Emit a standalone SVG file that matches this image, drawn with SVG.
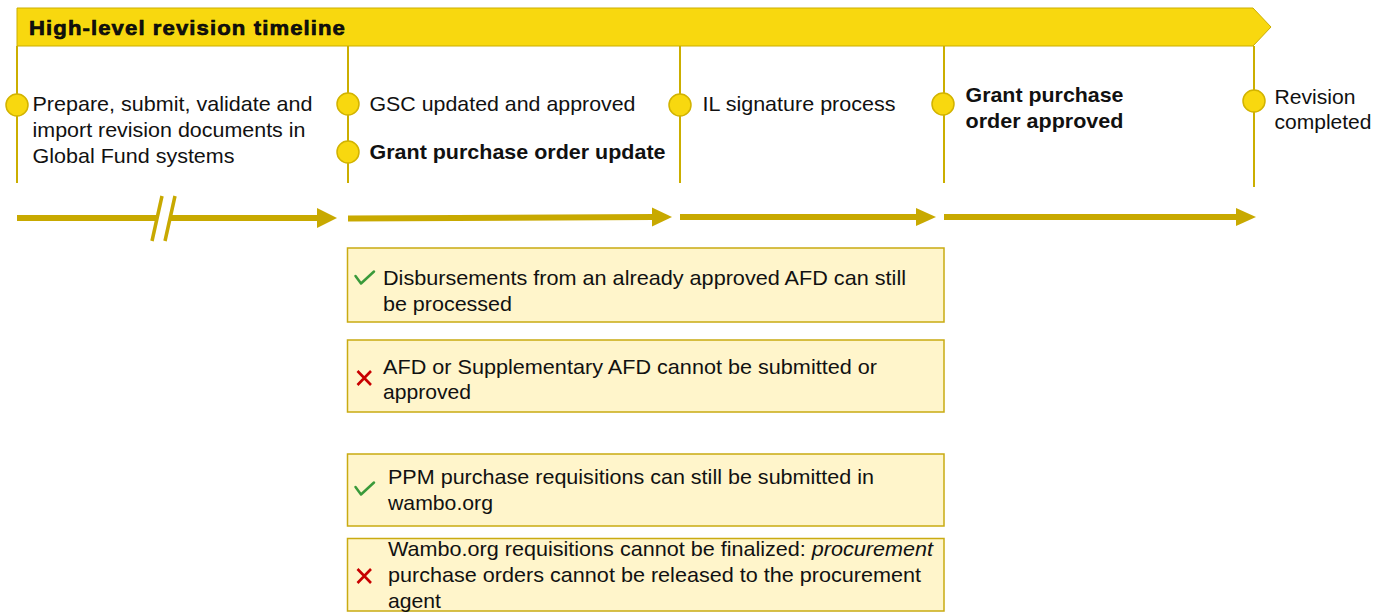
<svg xmlns="http://www.w3.org/2000/svg" width="1389" height="612" viewBox="0 0 1389 612">
<style>
  .t { font-family: "Liberation Sans", Arial, sans-serif; font-size: 21px; fill: #111; }
  .b { font-weight: bold; }
  .vline { stroke: #cbae00; stroke-width: 2; fill: none; }
  .dot { fill: #f8d80f; stroke: #d2b300; stroke-width: 1.5; }
  .box { fill: #fff5cb; stroke: #c9ab12; stroke-width: 1.5; }
  .arr { stroke: #c8a900; stroke-width: 6; fill: none; }
  .head { fill: #c8a900; }
  .ok { stroke: #3a9a3a; stroke-width: 2.5; fill: none; stroke-linecap: round; stroke-linejoin: round; }
  .no { stroke: #c80000; stroke-width: 2.6; fill: none; }
</style>
<rect width="1389" height="612" fill="#ffffff"/>

<g id="banner">
  <polygon points="17,8 1253,8 1271,27 1253,46 17,46" fill="#f8d80f" stroke="#cbae00" stroke-width="1"/>
  <text x="29" y="34.5" class="t b" style="font-size:20px;letter-spacing:1px" stroke="#000" stroke-width="0.6" textLength="317" lengthAdjust="spacingAndGlyphs">High-level revision timeline</text>
</g>

<g id="timeline-lines">
  <line class="vline" x1="17" y1="46" x2="17" y2="183"/>
  <line class="vline" x1="348" y1="46" x2="348" y2="183"/>
  <line class="vline" x1="680" y1="46" x2="680" y2="183"/>
  <line class="vline" x1="944" y1="46" x2="944" y2="183"/>
  <line class="vline" x1="1254" y1="46" x2="1254" y2="187"/>
</g>

<g id="connectors">
  <line class="arr" x1="17" y1="218" x2="319" y2="218"/>
  <polygon class="head" points="317,208 337,218 317,228"/>
  <polygon points="162,196 175,196 165,241 152,241" fill="#ffffff"/>
  <line x1="162" y1="196" x2="152" y2="241" stroke="#c8a900" stroke-width="3.5"/>
  <line x1="175" y1="196" x2="165" y2="241" stroke="#c8a900" stroke-width="3.5"/>

  <line class="arr" x1="348" y1="218.5" x2="654" y2="217"/>
  <polygon class="head" points="652,207.5 672,217 652,226.5"/>

  <line class="arr" x1="680" y1="217" x2="918" y2="217"/>
  <polygon class="head" points="916,208 936,217 916,226"/>

  <line class="arr" x1="944" y1="217" x2="1238" y2="217"/>
  <polygon class="head" points="1236,208 1256,217 1236,226"/>
</g>

<g id="step-prepare">
  <circle class="dot" cx="17" cy="105" r="11"/>
  <text class="t" x="32.5" y="111" textLength="280" lengthAdjust="spacingAndGlyphs">Prepare, submit, validate and</text>
  <text class="t" x="32.5" y="137" textLength="273" lengthAdjust="spacingAndGlyphs">import revision documents in</text>
  <text class="t" x="32.5" y="163" textLength="202" lengthAdjust="spacingAndGlyphs">Global Fund systems</text>
</g>

<g id="step-gsc">
  <circle class="dot" cx="348" cy="104" r="11"/>
  <text class="t" x="369.5" y="111" textLength="266" lengthAdjust="spacingAndGlyphs">GSC updated and approved</text>
</g>

<g id="step-gpo-update">
  <circle class="dot" cx="348" cy="152" r="11"/>
  <text class="t b" x="369.5" y="159" textLength="296" lengthAdjust="spacingAndGlyphs">Grant purchase order update</text>
</g>

<g id="step-il">
  <circle class="dot" cx="680" cy="105" r="11"/>
  <text class="t" x="702.5" y="111" textLength="193" lengthAdjust="spacingAndGlyphs">IL signature process</text>
</g>

<g id="step-gpo-approved">
  <circle class="dot" cx="943" cy="104" r="11"/>
  <text class="t b" x="965.5" y="102" textLength="158" lengthAdjust="spacingAndGlyphs">Grant purchase</text>
  <text class="t b" x="965.5" y="127.5" textLength="158" lengthAdjust="spacingAndGlyphs">order approved</text>
</g>

<g id="step-completed">
  <circle class="dot" cx="1254" cy="101" r="11"/>
  <text class="t" x="1274.5" y="104" textLength="81" lengthAdjust="spacingAndGlyphs">Revision</text>
  <text class="t" x="1274.5" y="129" textLength="97" lengthAdjust="spacingAndGlyphs">completed</text>
</g>

<g id="box-disbursements">
  <rect class="box" x="347.5" y="248" width="596.5" height="74"/>
  <polyline class="ok" points="355.5,276 361,283.5 374,271.5"/>
  <text class="t" x="383" y="285" textLength="523" lengthAdjust="spacingAndGlyphs">Disbursements from an already approved AFD can still</text>
  <text class="t" x="383" y="311" textLength="129" lengthAdjust="spacingAndGlyphs">be processed</text>
</g>

<g id="box-afd">
  <rect class="box" x="347.5" y="340" width="596.5" height="72"/>
  <path class="no" d="M357.5,371 L371,385 M371,371 L357.5,385"/>
  <text class="t" x="383" y="374" textLength="494" lengthAdjust="spacingAndGlyphs">AFD or Supplementary AFD cannot be submitted or</text>
  <text class="t" x="383" y="399" textLength="88" lengthAdjust="spacingAndGlyphs">approved</text>
</g>

<g id="box-ppm">
  <rect class="box" x="347.5" y="454" width="596.5" height="72"/>
  <polyline class="ok" points="355.5,487 361,494.5 374,482.5"/>
  <text class="t" x="388" y="484" textLength="486" lengthAdjust="spacingAndGlyphs">PPM purchase requisitions can still be submitted in</text>
  <text class="t" x="388" y="510" textLength="105" lengthAdjust="spacingAndGlyphs">wambo.org</text>
</g>

<g id="box-wambo">
  <rect class="box" x="347.5" y="538.5" width="596.5" height="72.5"/>
  <path class="no" d="M357.5,569 L371,583 M371,569 L357.5,583"/>
  <text class="t" x="388" y="556" textLength="545" lengthAdjust="spacingAndGlyphs">Wambo.org requisitions cannot be finalized: <tspan font-style="italic">procurement</tspan></text>
  <text class="t" x="388" y="582" textLength="533" lengthAdjust="spacingAndGlyphs">purchase orders cannot be released to the procurement</text>
  <text class="t" x="388" y="608" textLength="53" lengthAdjust="spacingAndGlyphs">agent</text>
</g>
</svg>
